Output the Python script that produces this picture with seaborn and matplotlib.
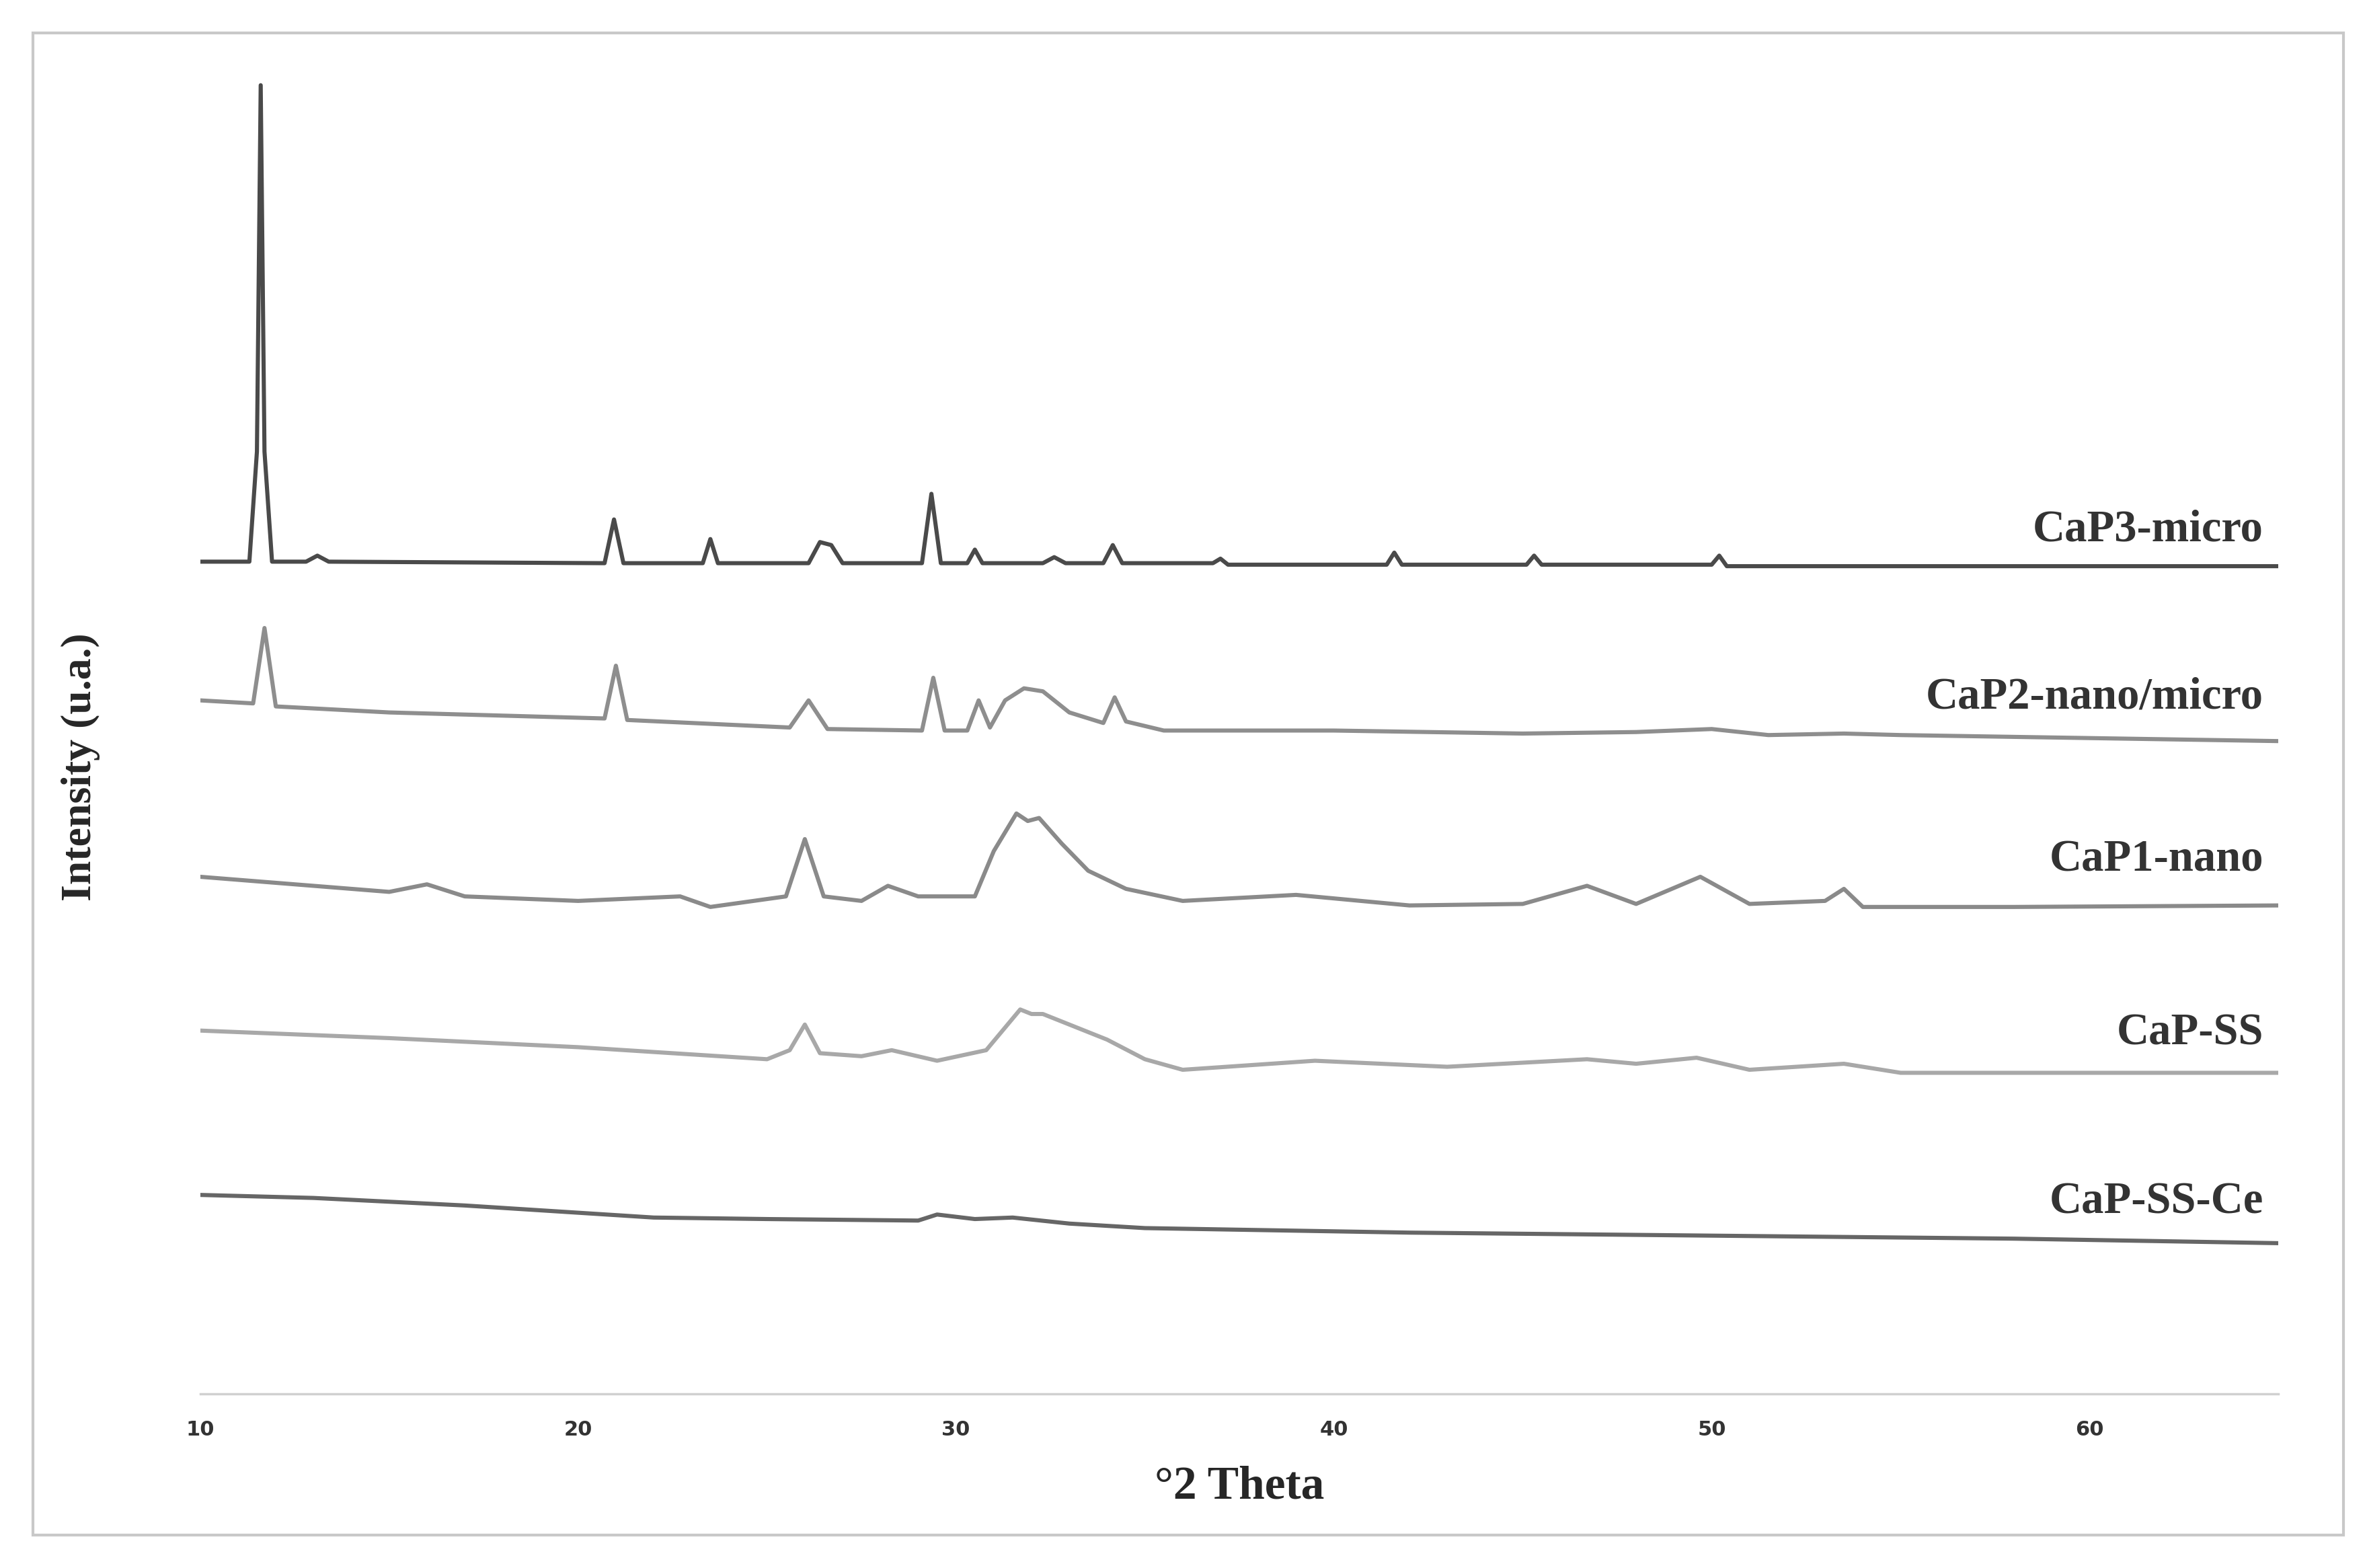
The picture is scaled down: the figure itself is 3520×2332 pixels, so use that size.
import matplotlib
matplotlib.use("Agg")
import matplotlib.pyplot as plt
import seaborn as sns
import pandas as pd
from matplotlib.patches import Rectangle

sns.set_theme(style="white")
plt.rcParams['font.family'] = ['Liberation Serif', 'DejaVu Serif']

# intensity values in arbitrary units
x_cap3 = [10,11.3,11.5,11.6,11.7,11.9,12.8,13.1,13.4,20.7,20.95,21.2,23.3,23.5,23.7,26.1,26.4,26.7,27.0,29.1,29.35,29.6,30.3,30.5,30.7,32.3,32.6,32.9,33.9,34.15,34.4,36.8,37.0,37.2,41.4,41.6,41.8,45.1,45.3,45.5,50.0,50.2,50.4,65]
y_cap3 = [552,552,625,868,625,552,552,556,552,551,580,551,551,567,551,551,565,563,551,551,597,551,551,560,551,551,555,551,551,563,551,551,554,550,550,558,550,550,556,550,550,556,549,549]

x_cap2 = [10,11.4,11.7,12.0,15,20.7,21.0,21.3,25.6,26.1,26.6,29.1,29.4,29.7,30.3,30.6,30.9,31.3,31.8,32.3,33.0,33.9,34.2,34.5,35.5,37.0,40,45,48,50,51.5,53.5,55,65]
y_cap2 = [460,458,508,456,452,448,483,447,442,460,441,440,475,440,440,460,442,460,468,466,452,445,462,446,440,440,440,438,439,441,437,438,437,433]

x_cap1 = [10,15,16,17,20,22.7,23.5,25.5,26.0,26.5,27.5,28.2,29,30.5,31.0,31.6,31.9,32.2,32.8,33.5,34.5,36,39,42,45,46.7,48,49.7,51,53.0,53.5,54,58,65]
y_cap1 = [343,333,338,330,327,330,323,330,368,330,327,337,330,330,360,385,380,382,365,347,335,327,331,324,325,337,325,343,325,327,335,323,323,324]

x_capss = [10,15,20,25,25.6,26.0,26.4,27.5,28.3,29.5,30.8,31.7,32.0,32.3,33.0,34.0,35,36,39.5,43,46.7,48,49.6,51,53.5,55,65]
y_capss = [241,236,230,222,228,245,226,224,228,221,228,255,252,252,245,235,222,215,221,217,222,219,223,215,219,213,213]

x_cece = [10,13,17,22,25,29,29.5,30.5,31.5,33,35,42,50,58,65]
y_cece = [132,130,125,117,116,115,119,116,117,113,110,107,105,103,100]

labels = ["CaP3-micro", "CaP2-nano/micro", "CaP1-nano", "CaP-SS", "CaP-SS-Ce"]
label_y = [573, 462, 354, 239, 127]
colors = ["#4a4a4a", "#8e8e8e", "#8a8a8a", "#a8a8a8", "#666666"]

series = [(x_cap3, y_cap3), (x_cap2, y_cap2), (x_cap1, y_cap1), (x_capss, y_capss), (x_cece, y_cece)]
df = pd.concat([pd.DataFrame({"theta": xs, "I": ys, "s": lab}) for (xs, ys), lab in zip(series, labels)])

fig = plt.figure(figsize=(17.6, 11.66), dpi=200)
fig.patches.append(Rectangle((0.014, 0.021), 0.976, 0.958, transform=fig.transFigure,
                             fill=False, edgecolor="#c8c8c8", lw=1.5))
ax = fig.add_axes([0.0846, 0.111, 0.878, 0.851])
sns.lineplot(data=df, x="theta", y="I", hue="s", palette=dict(zip(labels, colors)),
             ax=ax, legend=False, lw=2.2, sort=False, estimator=None)
for lab, ly, c in zip(labels, label_y, colors):
    ax.text(64.6, ly, lab, ha="right", va="center", fontsize=24, fontweight="bold", color="#333333")
ax.set_xlim(10, 65)
ax.set_ylim(0, 885)
ax.set_xticks([10, 20, 30, 40, 50, 60])
ax.set_yticks([])
ax.tick_params(axis="x", labelsize=11, length=0, pad=14)
for t in ax.get_xticklabels():
    t.set_family("DejaVu Sans")
    t.set_fontweight("bold")
    t.set_color("#333333")
for sp in ["top", "right", "left"]:
    ax.spines[sp].set_visible(False)
ax.spines["bottom"].set_color("#d0d0d0")
ax.set_xlabel("°2 Theta", fontsize=25, fontweight="bold", labelpad=14)
ax.set_ylabel("Intensity (u.a.)", fontsize=23, fontweight="bold")
ax.yaxis.set_label_coords(-0.048, 0.47)
fig.savefig("out.png", dpi=200)
